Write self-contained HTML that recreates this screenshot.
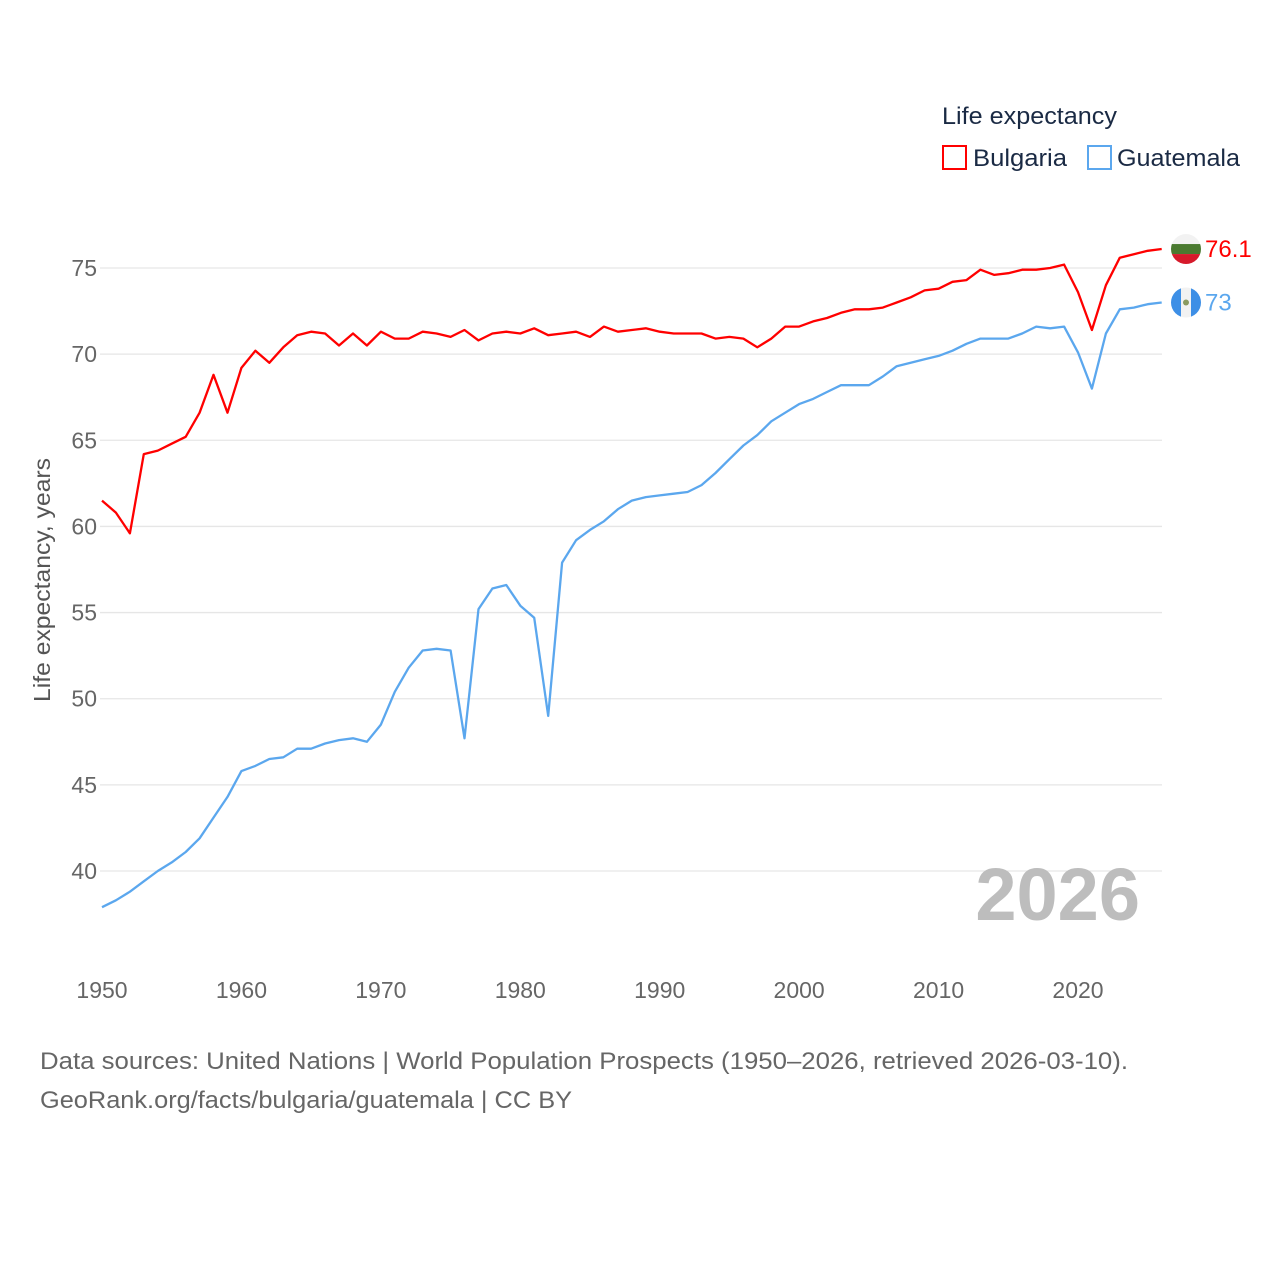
<!DOCTYPE html>
<html><head><meta charset="utf-8"><style>
body{margin:0;background:#fff;font-family:"Liberation Sans",sans-serif;}
svg text{font-family:"Liberation Sans",sans-serif;}
</style></head><body>
<svg width="1280" height="1280" viewBox="0 0 1280 1280">
<rect width="1280" height="1280" fill="#fff"/>
<g id="grid"></g>
<g id="yticks"></g>
<g id="xticks"></g>
<text transform="translate(50,580) rotate(-90)" text-anchor="middle" font-size="23" fill="#555" textLength="244" lengthAdjust="spacingAndGlyphs">Life expectancy, years</text>
<text x="1140" y="920" text-anchor="end" font-size="74" font-weight="bold" fill="#bdbdbd">2026</text>
<g id="series"></g>
<g>
<text x="942" y="124" font-size="24" fill="#1a2a44" textLength="175" lengthAdjust="spacingAndGlyphs">Life expectancy</text>
<g><rect x="943" y="146" width="23" height="23" fill="none" stroke="#ff0000" stroke-width="2"/><text x="973" y="166" font-size="24" fill="#1a2a44" textLength="94" lengthAdjust="spacingAndGlyphs">Bulgaria</text></g>
<g><rect x="1088" y="146" width="23" height="23" fill="none" stroke="#5ba7ee" stroke-width="2"/><text x="1117" y="166" font-size="24" fill="#1a2a44" textLength="123" lengthAdjust="spacingAndGlyphs">Guatemala</text></g>
</g>
<text x="40" y="1069" font-size="24" fill="#666" textLength="1088" lengthAdjust="spacingAndGlyphs">Data sources: United Nations | World Population Prospects (1950–2026, retrieved 2026-03-10).</text>
<text x="40" y="1108" font-size="24" fill="#666" textLength="532" lengthAdjust="spacingAndGlyphs">GeoRank.org/facts/bulgaria/guatemala | CC BY</text>
</svg>
<script>
const years=[];for(let y=1950;y<=2026;y++)years.push(y);
const bulgaria=[61.5,60.8,59.6,64.2,64.4,64.8,65.2,66.6,68.8,66.6,69.2,70.2,69.5,70.4,71.1,71.3,71.2,70.5,71.2,70.5,71.3,70.9,70.9,71.3,71.2,71.0,71.4,70.8,71.2,71.3,71.2,71.5,71.1,71.2,71.3,71.0,71.6,71.3,71.4,71.5,71.3,71.2,71.2,71.2,70.9,71.0,70.9,70.4,70.9,71.6,71.6,71.9,72.1,72.4,72.6,72.6,72.7,73.0,73.3,73.7,73.8,74.2,74.3,74.9,74.6,74.7,74.9,74.9,75.0,75.2,73.6,71.4,74.0,75.6,75.8,76.0,76.1];
const guatemala=[37.9,38.3,38.8,39.4,40.0,40.5,41.1,41.9,43.1,44.3,45.8,46.1,46.5,46.6,47.1,47.1,47.4,47.6,47.7,47.5,48.5,50.4,51.8,52.8,52.9,52.8,47.7,55.2,56.4,56.6,55.4,54.7,49.0,57.9,59.2,59.8,60.3,61.0,61.5,61.7,61.8,61.9,62.0,62.4,63.1,63.9,64.7,65.3,66.1,66.6,67.1,67.4,67.8,68.2,68.2,68.2,68.7,69.3,69.5,69.7,69.9,70.2,70.6,70.9,70.9,70.9,71.2,71.6,71.5,71.6,70.1,68.0,71.2,72.6,72.7,72.9,73.0];
const yTicks=[40,45,50,55,60,65,70,75];
const xTicks=[1950,1960,1970,1980,1990,2000,2010,2020];
const NS='http://www.w3.org/2000/svg';
const X=v=>102+(v-1950)*(976/70);
const Y=v=>268+(75-v)*(603/35);
function mk(tag,at,parent){const e=document.createElementNS(NS,tag);for(const k in at)e.setAttribute(k,at[k]);parent.appendChild(e);return e;}
const grid=document.getElementById('grid'),yt=document.getElementById('yticks'),xt=document.getElementById('xticks'),ser=document.getElementById('series');
yTicks.forEach(t=>{
  const l=mk('line',{x1:100,x2:1162,y1:Y(t),y2:Y(t),stroke:'#e6e6e6','stroke-width':1.3},grid);
  
  
  const tx=mk('text',{x:97,y:Y(t)+8,'text-anchor':'end','font-size':23,fill:'#666'},yt);tx.textContent=t;
  
  
});
xTicks.forEach(t=>{
  const tx=mk('text',{x:X(t),y:998,'text-anchor':'middle','font-size':23,fill:'#666'},xt);tx.textContent=t;
  
  
});
function line(vals,color,name){
  const d=vals.map((v,i)=>(i?'L':'M')+X(years[i]).toFixed(1)+','+Y(v).toFixed(1)).join('');
  const p=mk('path',{d:d,fill:'none',stroke:color,'stroke-width':2.3,'stroke-linejoin':'round'},ser);
  
  
}
line(guatemala,'#5ba7ee','guatemala');
line(bulgaria,'#ff0000','bulgaria');
const bl=bulgaria[bulgaria.length-1],gl=guatemala[guatemala.length-1];
const by=Y(bl),gy=Y(gl),fx=1186;
const bg=mk('g',{},ser);


mk('defs',{},bg).innerHTML='<clipPath id="cb"><circle cx="'+fx+'" cy="'+by+'" r="15"/></clipPath><clipPath id="cg"><circle cx="'+fx+'" cy="'+gy+'" r="15"/></clipPath>';
const fb=mk('g',{'clip-path':'url(#cb)'},bg);
mk('rect',{x:fx-15,y:by-15,width:30,height:10,fill:'#f2f2f2'},fb);
mk('rect',{x:fx-15,y:by-5,width:30,height:10,fill:'#4a7a30'},fb);
mk('rect',{x:fx-15,y:by+5,width:30,height:10,fill:'#d61a2b'},fb);
const bt=mk('text',{x:1205,y:by+8,'font-size':24,fill:'#ff0000'},ser);bt.textContent=bl.toFixed(1);


const gg=mk('g',{'clip-path':'url(#cg)'},ser);


mk('rect',{x:fx-15,y:gy-15,width:10,height:30,fill:'#3d8fe6'},gg);
mk('rect',{x:fx-5,y:gy-15,width:10,height:30,fill:'#f2f2f2'},gg);
mk('rect',{x:fx+5,y:gy-15,width:10,height:30,fill:'#3d8fe6'},gg);
mk('circle',{cx:fx,cy:gy,r:3,fill:'#8a9a60'},gg);
const gt=mk('text',{x:1205,y:gy+8,'font-size':24,fill:'#5ba7ee'},ser);gt.textContent=String(gl);


</script>
</body></html>
